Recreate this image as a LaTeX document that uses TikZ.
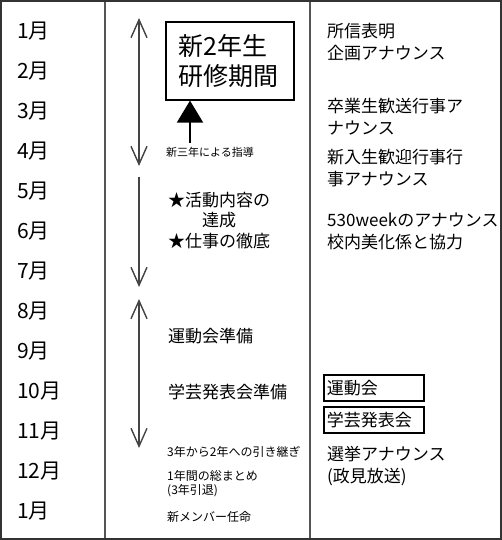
\documentclass[tikz,border=0pt]{standalone}
\usepackage{fontspec}
\setmainfont{Noto Sans CJK JP}
\usetikzlibrary{
  arrows.meta,
  positioning
}
\definecolor{plFrame}{HTML}{333333}
\definecolor{plRule}{HTML}{555555}
\definecolor{plArrow}{HTML}{444444}
\tikzset{
  month/.style={anchor=west, inner sep=0pt, font=\fontsize{21}{24}\selectfont},
  task/.style={anchor=west, inner sep=0pt, align=left, font=\fontsize{17}{22}\selectfont},
  note/.style={anchor=west, inner sep=0pt, align=left, font=\fontsize{12}{14}\selectfont},
  tinynote/.style={note, font=\fontsize{11}{13}\selectfont},
  trainbox/.style={
    draw, line width=1.6pt, anchor=north west, minimum width=128pt, minimum height=78pt,
    text width=102pt, inner xsep=13pt, align=left, font=\fontsize{25}{30}\selectfont
  },
  eventbox/.style={
    draw, line width=1.6pt, anchor=north west, minimum width=100pt, minimum height=26pt,
    text width=94pt, inner sep=3pt, align=left, font=\fontsize{17}{21}\selectfont
  },
  spanarrow/.style={{Straight Barb[length=18pt,width=16pt]}-{Straight Barb[length=18pt,width=16pt]}, line width=1.4pt, plArrow},
  downarrow/.style={-{Straight Barb[length=18pt,width=16pt]}, line width=1.4pt, plArrow},
  pusharrow/.style={-{Triangle[length=22pt,width=26pt]}, line width=2pt},
  colrule/.style={line width=2pt, plRule},
  frameline/.style={line width=2.4pt, plFrame}
}

\begin{document}
\begin{tikzpicture}[x=1pt, y=-1pt]
  \useasboundingbox (0,0) rectangle (502,540);
  % frame and column rules
  \draw[frameline] (1.2,1.2) rectangle (500.8,538.8);
  \coordinate (c1top) at (105,2);
  \coordinate (c1bot) at (105,538);
  \coordinate (c2top) at (310,2);
  \coordinate (c2bot) at (310,538);
  \draw[colrule] (c1top) -- (c1bot);
  \draw[colrule] (c2top) -- (c2bot);

  % months
  \foreach \m [count=\i] in {1,2,3,4,5,6,7,8,9,10,11,12,1}
    \node[month] (m\i) at (17, {31+40*(\i-1)}) {\m 月};

  % period arrows
  \coordinate (p1top) at (139,18);
  \coordinate (p1bot) at (139,166);
  \coordinate (p2top) at (139,177);
  \coordinate (p2bot) at (139,287);
  \coordinate (p3top) at (139,299);
  \coordinate (p3bot) at (139,448);
  \draw[spanarrow] (p1top) -- (p1bot);
  \draw[downarrow] (p2top) -- (p2bot);
  \draw[spanarrow] (p3top) -- (p3bot);

  % middle column
  \node[trainbox] (train) at (165,21) {新2年生\\研修期間};
  \coordinate (pushfoot) at (190,143);
  \draw[pusharrow] (pushfoot) -- (train.south -| pushfoot);
  \node[tinynote] (guide) at (166,152.5) {新三年による指導};
  \node[task, align=center, font=\fontsize{17}{20.5}\selectfont] (aim) at (168,220.5)
    {★活動内容の\\達成\\★仕事の徹底};
  \node[task] (sportsprep) at (168,336.5) {運動会準備};
  \node[task] (artsprep) at (168,392) {学芸発表会準備};
  \node[note] (handover) at (167,452) {3年から2年への引き継ぎ};
  \node[note] (summary) at (167,484) {1年間の総まとめ\\(3年引退)};
  \node[note] (newmembers) at (167,517) {新メンバー任命};

  % right column
  \node[task] (speech) at (327,42) {所信表明\\企画アナウンス};
  \node[task] (farewell) at (327,116.5) {卒業生歓送行事ア\\ナウンス};
  \node[task] (welcome) at (327,168.5) {新入生歓迎行事行\\事アナウンス};
  \node[task] (week) at (327,231.5) {530weekのアナウンス\\校内美化係と協力};
  \node[eventbox] (sports) at (323,374) {運動会};
  \node[eventbox] (arts) at (323,406) {学芸発表会};
  \node[task] (election) at (327,466) {選挙アナウンス\\(政見放送)};
\end{tikzpicture}
\end{document}
